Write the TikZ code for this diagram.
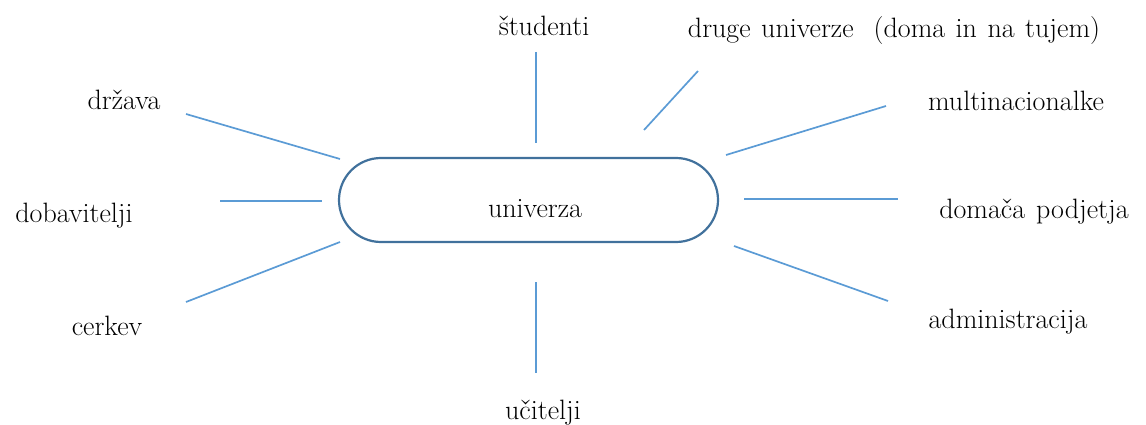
\documentclass[tikz,border=0pt]{standalone}
\usetikzlibrary{shapes.misc}
\definecolor{spoke}{HTML}{5B9BD5}
\definecolor{rim}{HTML}{41719C}
\begin{document}
\begin{tikzpicture}[x=1pt,y=-1pt,
  lbl/.style={anchor=base,inner sep=0pt,font=\fontsize{28}{32}\selectfont},
  spk/.style={draw=spoke,line width=1.7pt},
  hub/.style={draw=rim,line width=2.2pt,rounded rectangle,minimum width=379pt,minimum height=84pt,inner sep=0pt}]
\useasboundingbox (0,0) rectangle (1146,425);
% hub
\node[hub] (uni) at (528.5,200) {};
\node[lbl] (unit) at (535,217) {univerza};
% labels
\node[lbl] (stud) at (544,36) {študenti};
\node[lbl] (drug) at (894,38) {\spaceskip=10.5pt druge univerze\hspace{20pt}(doma in na tujem)};
\node[lbl] (mult) at (1016,111) {multinacionalke};
\node[lbl] (doma) at (1034,218) {\spaceskip=11pt domača podjetja};
\node[lbl] (admi) at (1008,328) {administracija};
\node[lbl] (ucit) at (543,419) {učitelji};
\node[lbl] (drza) at (124,110) {država};
\node[lbl] (doba) at (74,222) {dobavitelji};
\node[lbl] (cerk) at (107,335) {cerkev};
% spoke end points
\coordinate (s1) at (536,52);  \coordinate (s2) at (536,143);
\coordinate (d1) at (698,71);  \coordinate (d2) at (644,130);
\coordinate (m1) at (886,106); \coordinate (m2) at (726,155);
\coordinate (p1) at (744,199); \coordinate (p2) at (898,199);
\coordinate (a1) at (734,246); \coordinate (a2) at (888,301);
\coordinate (u1) at (536,282); \coordinate (u2) at (536,373);
\coordinate (c1) at (186,302); \coordinate (c2) at (340,242);
\coordinate (b1) at (220,201); \coordinate (b2) at (322,201);
\coordinate (z1) at (186,114); \coordinate (z2) at (340,159);
\draw[spk] (s1) -- (s2);
\draw[spk] (d1) -- (d2);
\draw[spk] (m1) -- (m2);
\draw[spk] (p1) -- (p2);
\draw[spk] (a1) -- (a2);
\draw[spk] (u1) -- (u2);
\draw[spk] (c1) -- (c2);
\draw[spk] (b1) -- (b2);
\draw[spk] (z1) -- (z2);
\end{tikzpicture}
\end{document}
